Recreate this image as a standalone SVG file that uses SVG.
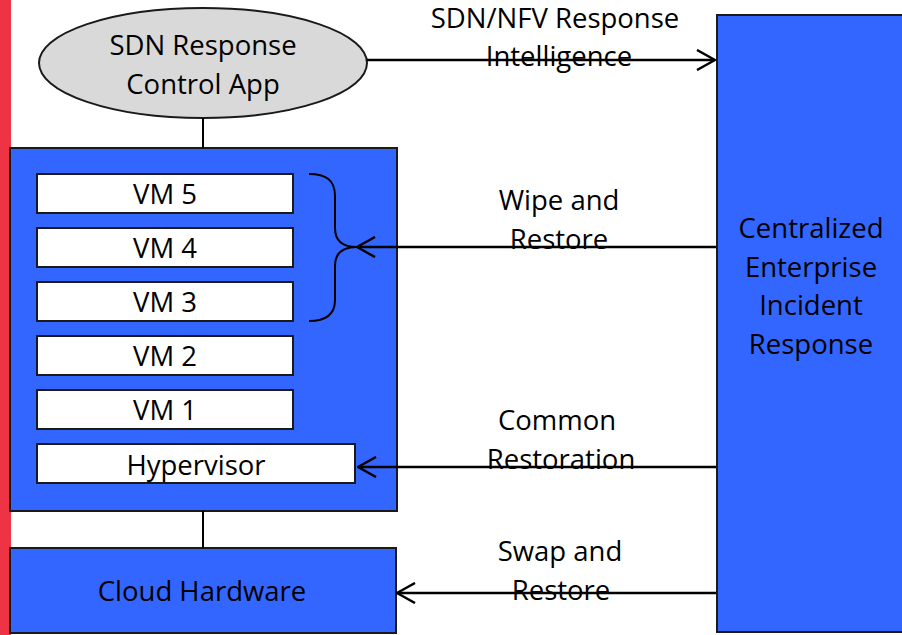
<svg xmlns="http://www.w3.org/2000/svg" width="902" height="635" viewBox="0 0 902 635">
  <style>
    .lbl { font-family: "Open Sans", "Noto Sans", sans-serif; font-size: 27.5px; fill: #000; text-anchor: middle; }
    .blue { fill: #3366FF; stroke: #1a1a1a; stroke-width: 2; }
    .white { fill: #FFFFFF; stroke: #1a1a1a; stroke-width: 2; }
    .wire { fill: none; stroke: #000; stroke-width: 2.5; }
    .thin { fill: none; stroke: #000; stroke-width: 2; }
  </style>
  <defs>
    <marker id="open" viewBox="0 0 20 22" refX="19" refY="11" markerWidth="20" markerHeight="22" markerUnits="userSpaceOnUse" orient="auto">
      <path d="M1,1 L19,11 L1,21" fill="none" stroke="#000" stroke-width="2.5"/>
    </marker>
  </defs>

  <rect x="0" y="0" width="902" height="635" fill="#FFFFFF"/>
  <!-- red edge strip -->
  <rect x="0" y="0" width="11" height="635" fill="#EE3344"/>

  <g id="response-app">
    <ellipse cx="203" cy="63" rx="164" ry="55" fill="#D9D9D9" stroke="#1a1a1a" stroke-width="2"/>
    <text class="lbl" x="203" y="55">SDN Response</text>
    <text class="lbl" x="203" y="94">Control App</text>
  </g>

  <g id="cloud-host">
    <rect class="blue" x="10" y="148" width="387" height="363"/>
  </g>
  <g id="vm5"><rect class="white" x="37" y="174" width="256" height="39"/><text class="lbl" x="165" y="204">VM 5</text></g>
  <g id="vm4"><rect class="white" x="37" y="228" width="256" height="39"/><text class="lbl" x="165" y="258">VM 4</text></g>
  <g id="vm3"><rect class="white" x="37" y="282" width="256" height="39"/><text class="lbl" x="165" y="312">VM 3</text></g>
  <g id="vm2"><rect class="white" x="37" y="336" width="256" height="39"/><text class="lbl" x="165" y="366">VM 2</text></g>
  <g id="vm1"><rect class="white" x="37" y="390" width="256" height="39"/><text class="lbl" x="165" y="420">VM 1</text></g>
  <g id="hypervisor"><rect class="white" x="37" y="444" width="318" height="39"/><text class="lbl" x="196" y="475">Hypervisor</text></g>

  <g id="cloud-hardware">
    <rect class="blue" x="10" y="548" width="386" height="85"/>
    <text class="lbl" x="202" y="601">Cloud Hardware</text>
  </g>

  <g id="incident-response">
    <rect class="blue" x="717" y="15" width="190" height="617"/>
    <text class="lbl" x="811" y="238">Centralized</text>
    <text class="lbl" x="811" y="277">Enterprise</text>
    <text class="lbl" x="811" y="315">Incident</text>
    <text class="lbl" x="811" y="354">Response</text>
  </g>

  <g id="connectors">
    <line class="thin" x1="203" y1="118" x2="203" y2="148"/>
    <line class="thin" x1="203" y1="511" x2="203" y2="548"/>
    <!-- brace grouping VM 3..5 -->
    <path class="thin" d="M309,174 C326,174 335,180 335,196 L335,228 C335,240 342,247 357,247 C342,247 335,254 335,266 L335,300 C335,314 326,321 309,321"/>
    <line class="wire" x1="367" y1="60" x2="715" y2="60" marker-end="url(#open)"/>
    <line class="wire" x1="716" y1="247" x2="357" y2="247" marker-end="url(#open)"/>
    <line class="wire" x1="716" y1="467" x2="358" y2="467" marker-end="url(#open)"/>
    <line class="wire" x1="716" y1="593" x2="397" y2="593" marker-end="url(#open)"/>
  </g>

  <g id="connector-labels">
    <text class="lbl" x="555" y="28">SDN/NFV Response</text>
    <text class="lbl" x="559" y="66">Intelligence</text>
    <text class="lbl" x="559" y="210">Wipe and</text>
    <text class="lbl" x="559" y="249">Restore</text>
    <text class="lbl" x="557" y="430">Common</text>
    <text class="lbl" x="561" y="469">Restoration</text>
    <text class="lbl" x="560" y="561">Swap and</text>
    <text class="lbl" x="561" y="600">Restore</text>
  </g>
</svg>
